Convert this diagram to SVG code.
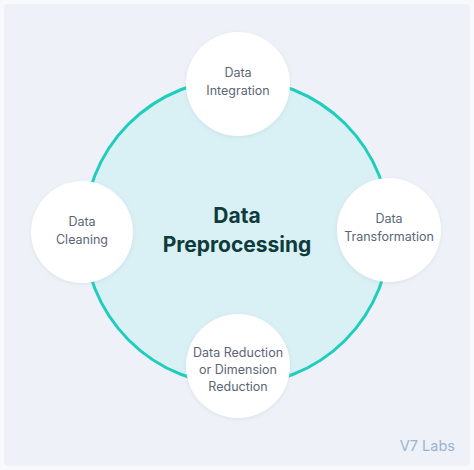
<svg xmlns="http://www.w3.org/2000/svg" width="474" height="470" viewBox="0 0 474 470">
<defs>
<filter id="sh" x="-20%" y="-20%" width="140%" height="140%">
<feDropShadow dx="0" dy="1" stdDeviation="2" flood-color="#9fb0c4" flood-opacity="0.25"/>
</filter>
</defs>
<style>
.node{fill:#ffffff;filter:url(#sh)}
.lbl{font-family:Inter,"Liberation Sans",sans-serif;font-size:12.5px;fill:#5b6576;text-anchor:middle}
.title{font-family:Inter,"Liberation Sans",sans-serif;font-size:21px;font-weight:700;fill:#0e3b3c;text-anchor:middle}
</style>
<rect x="0" y="0" width="474" height="470" fill="#f7f9fc"/>
<rect x="4" y="4" width="466" height="462" rx="4" fill="#eef2f8"/>
<g id="connectors">
<circle cx="237" cy="232" r="153" fill="#d9f0f4" stroke="#1fcdbd" stroke-width="3"/>
</g>
<g id="center">
<text class="title" x="237" y="223">Data</text>
<text class="title" x="237" y="252">Preprocessing</text>
</g>
<g id="integration">
<circle class="node" cx="238" cy="84" r="52"/>
<text class="lbl" x="238" y="77">Data</text>
<text class="lbl" x="238" y="95">Integration</text>
</g>
<g id="transformation">
<circle class="node" cx="389" cy="230" r="52"/>
<text class="lbl" x="389" y="223">Data</text>
<text class="lbl" x="389" y="241">Transformation</text>
</g>
<g id="cleaning">
<circle class="node" cx="82" cy="232" r="51"/>
<text class="lbl" x="82" y="226">Data</text>
<text class="lbl" x="82" y="244">Cleaning</text>
</g>
<g id="reduction">
<circle class="node" cx="238" cy="366" r="52"/>
<text class="lbl" x="238" y="357">Data Reduction</text>
<text class="lbl" x="238" y="374">or Dimension</text>
<text class="lbl" x="238" y="391">Reduction</text>
</g>
<text x="455" y="451" font-family="Inter,'Liberation Sans',sans-serif" font-size="14.5" fill="#9ab4d0" text-anchor="end">V7 Labs</text>
</svg>
